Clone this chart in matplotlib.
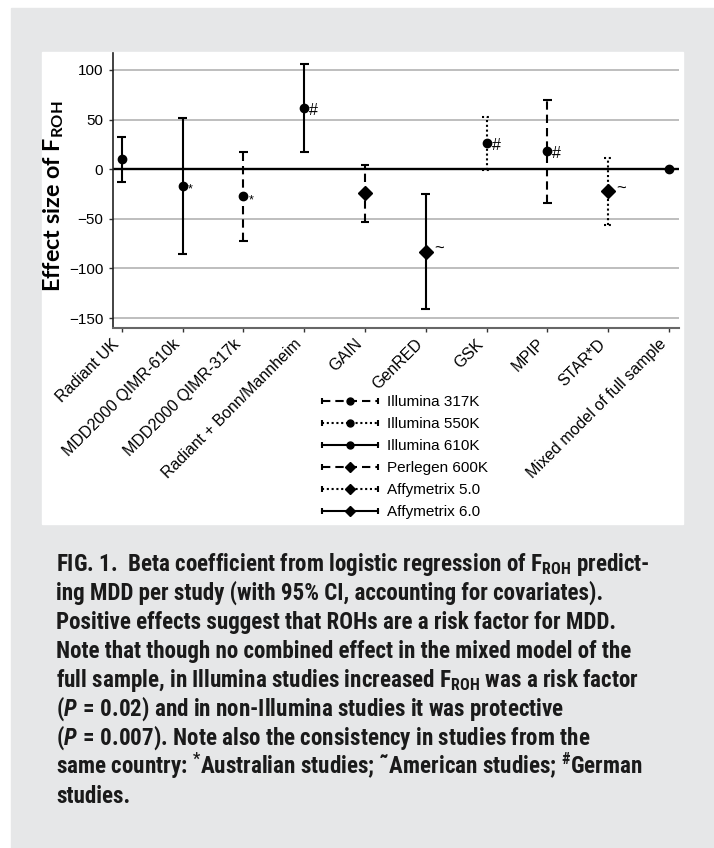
import matplotlib
matplotlib.use('Agg')
import matplotlib.pyplot as plt
from matplotlib import font_manager as fm
from matplotlib.patches import Rectangle
from matplotlib.lines import Line2D
from matplotlib.legend_handler import HandlerLine2D

# ---------------- data ----------------
studies = ['Radiant UK', 'MDD2000 QIMR-610k', 'MDD2000 QIMR-317k',
           'Radiant + Bonn/Mannheim', 'GAIN', 'GenRED', 'GSK', 'MPIP',
           'STAR*D', 'Mixed model of full sample']
effect = [10, -16.5, -27, 62, -24.5, -83.5, 26.5, 18, -22.5, 0.5]
ci_low = [-13, -85, -72, 17, -53, -141, -0.5, -34, -56, 0.5]
ci_high = [32, 52, 17, 106, 4.5, -25.5, 53, 69.5, 11.7, 0.5]
platform = ['Illumina 610K', 'Illumina 610K', 'Illumina 317K', 'Illumina 610K',
            'Perlegen 600K', 'Affymetrix 6.0', 'Illumina 550K', 'Illumina 317K',
            'Affymetrix 5.0', None]
country_mark = ['', '*', '*', '#', '', '~', '#', '#', '~', '']
platforms = ['Illumina 317K', 'Illumina 550K', 'Illumina 610K',
             'Perlegen 600K', 'Affymetrix 5.0', 'Affymetrix 6.0']
yticks = [100, 50, 0, -50, -100, -150]

caption_lines = [
    r'FIG. 1.  Beta coefficient from logistic regression of F$_{\mathregular{ROH}}$ predict-',
    'ing MDD per study (with 95% CI, accounting for covariates).',
    'Positive effects suggest that ROHs are a risk factor for MDD.',
    'Note that though no combined effect in the mixed model of the',
    r'full sample, in Illumina studies increased F$_{\mathregular{ROH}}$ was a risk factor',
    r'($\mathit{P}\,\mathregular{=}\,$0.02) and in non-Illumina studies it was protective',
    r'($\mathit{P}\,\mathregular{=}\,$0.007). Note also the consistency in studies from the',
    'same country: $^{*}$Australian studies; \u02dcAmerican studies; $^{\\#}$German',
    'studies.',
]

# ---------------- fonts ----------------
avail = {f.name for f in fm.fontManager.ttflist}
def pick(cands, default='DejaVu Sans'):
    for c in cands:
        if c in avail:
            return c
    return default

cap_font = pick(['Liberation Sans Narrow', 'Roboto Condensed', 'Roboto', 'Liberation Sans'])
tick_font = pick(['Liberation Sans'])
leg_font = pick(['Liberation Sans'])
ylab_font = pick(['Lato', 'Open Sans'])

plt.rcParams['mathtext.fontset'] = 'custom'
plt.rcParams['mathtext.rm'] = f'{cap_font}:bold'
plt.rcParams['mathtext.it'] = f'{cap_font}:italic:bold'
plt.rcParams['mathtext.bf'] = f'{cap_font}:bold'

W, H = 714, 848
fig = plt.figure(figsize=(W / 100, H / 100), dpi=100, facecolor='white')

# background boxes
fig.patches.append(Rectangle((11 / W, 0), 1 - 11 / W, 1 - 8 / H,
                             transform=fig.transFigure, color='#e6e7e8', zorder=-2))
fig.patches.append(Rectangle((42 / W, 1 - 524 / H), (683 - 42) / W, (524 - 52) / H,
                             transform=fig.transFigure, color='white', zorder=-1))

ax = fig.add_axes([113 / W, 1 - 328 / H, 566 / W, 275 / H])
ax.set_facecolor('none')
ax.set_xlim(-0.143, 9.164)
ax.set_ylim(-160, 117)

DASH = (0, (4, 2.4))
DOT = (0, (1, 1.3))
style = {
    'Illumina 317K': ('o', DASH),
    'Illumina 550K': ('o', DOT),
    'Illumina 610K': ('o', '-'),
    'Perlegen 600K': ('D', DASH),
    'Affymetrix 5.0': ('D', DOT),
    'Affymetrix 6.0': ('D', '-'),
}
MS = {'o': 6, 'D': 7}
capw = 0.072
LW = 1.5

ax.set_yticks(yticks)
ax.yaxis.grid(True, color='#b3b3b3', lw=1.2, zorder=0)
ax.set_axisbelow(True)
ax.axhline(0, color='black', lw=1.7, zorder=2)

for i, (e, lo, hi, p) in enumerate(zip(effect, ci_low, ci_high, platform)):
    if p is None:
        ax.plot([i], [e], marker='o', ms=MS['o'], color='black', ls='none', zorder=5)
        continue
    mk, ls = style[p]
    ax.vlines(i, lo, hi, colors='black', linestyles=ls, lw=LW, zorder=3)
    cap_ls = DOT if ls == DOT else '-'
    ax.hlines([lo, hi], i - capw, i + capw, colors='black', linestyles=cap_ls,
              lw=LW, zorder=3)
    ax.plot([i], [e], marker=mk, ms=MS[mk], color='black', ls='none', zorder=5)

mark_style = {'*': (9, -7), '#': (11.5, -7), '~': (12, -2)}
for i, (e, m, p) in enumerate(zip(effect, country_mark, platform)):
    if not m:
        continue
    mk = style[p][0] if p else 'o'
    dx = 5 if mk == 'o' else 8
    fs, dy = mark_style[m]
    ax.annotate(m, (i, e), xytext=(dx, dy), textcoords='offset pixels',
                ha='left', va='baseline', fontsize=fs, family=tick_font,
                color='black', zorder=6)

ax.set_xticks(range(len(studies)))
ax.set_xticklabels(studies, rotation=45, ha='right', fontsize=11.5, family=tick_font)
for lab in ax.get_yticklabels():
    lab.set_family(tick_font)
    lab.set_fontsize(11)
ax.tick_params(axis='both', direction='out', length=3, width=1, color='#333333', pad=4)
ax.tick_params(axis='x', pad=3)

for s in ('top', 'right'):
    ax.spines[s].set_visible(False)
ax.spines['left'].set_color('#222222')
ax.spines['left'].set_linewidth(1.2)
ax.spines['bottom'].set_color('#666666')
ax.spines['bottom'].set_linewidth(1.5)

ax.set_ylabel(r'Effect size of F$_{\mathregular{ROH}}$', fontsize=16.8,
              fontweight='bold', family=ylab_font)
ax.yaxis.set_label_coords(-0.083, 0.48)

# legend
handles = []
hmap = {}
for p in platforms:
    mk, ls = style[p]
    bar = Line2D([], [], color='black', lw=LW, ls=ls, marker='|', ms=5, mew=1.5)
    pt = Line2D([], [], color='black', ls='none', marker=mk,
                ms=5 if mk == 'o' else 5.5)
    hmap[bar] = HandlerLine2D(numpoints=2)
    hmap[pt] = HandlerLine2D(numpoints=1)
    handles.append((bar, pt))
fig.legend(handles, platforms, handler_map=hmap, loc='upper left',
           bbox_to_anchor=(317.4 / W, 1 - 395 / H), frameon=False,
           prop={'family': leg_font, 'size': 11}, handlelength=4.27,
           handletextpad=0.29, labelspacing=0.53, borderpad=0, borderaxespad=0)

# caption
texts = []
for k, line in enumerate(caption_lines):
    t = fig.text(56.5 / W, 1 - (571 + 29 * k) / H, line, ha='left', va='baseline',
                 fontsize=14, fontweight='bold', family=cap_font, color='#1a1a1a')
    texts.append(t)
fig.canvas.draw()
r = fig.canvas.get_renderer()
w0 = texts[0].get_window_extent(r).width
scale = 597 / w0
for t in texts:
    t.set_fontsize(14 * scale)

fig.savefig('out.png', dpi=100, facecolor=fig.get_facecolor())
